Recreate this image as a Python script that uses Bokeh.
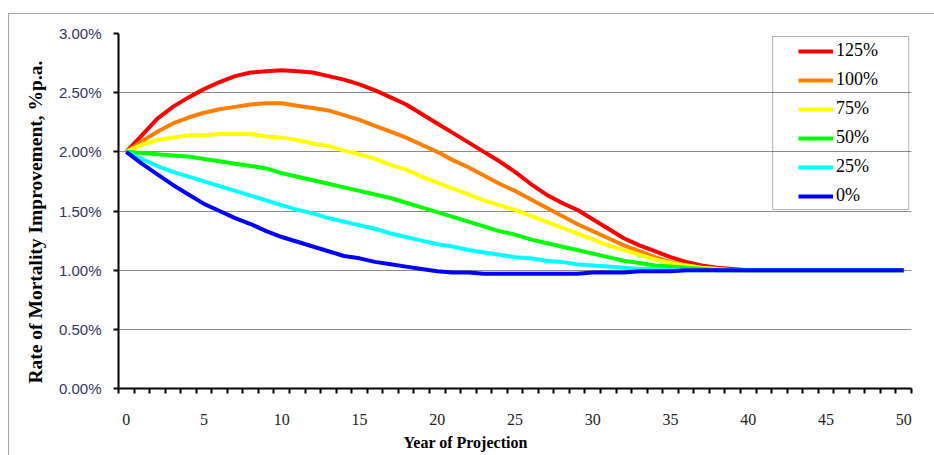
from bokeh.plotting import figure
from bokeh.models import (FixedTicker, PrintfTickFormatter, Legend, LegendItem,
                          BoxAnnotation, Title, Range1d)
from bokeh.embed import file_html
from bokeh.resources import INLINE

years = list(range(51))

s125 = [2.00, 2.14, 2.28, 2.38, 2.46, 2.53, 2.59, 2.64, 2.67, 2.68,
        2.69, 2.68, 2.67, 2.64, 2.61, 2.57, 2.52, 2.46, 2.40, 2.32,
        2.24, 2.16, 2.08, 2.00, 1.92, 1.83, 1.73, 1.64, 1.57, 1.51,
        1.43, 1.35, 1.27, 1.21, 1.16, 1.11, 1.07, 1.04, 1.02, 1.01,
        1.00, 1.00, 1.00, 1.00, 1.00, 1.00, 1.00, 1.00, 1.00, 1.00, 1.00]
s100 = [2.00, 2.09, 2.17, 2.24, 2.29, 2.33, 2.36, 2.38, 2.40, 2.41,
        2.41, 2.39, 2.37, 2.35, 2.31, 2.27, 2.22, 2.17, 2.12, 2.06,
        2.00, 1.93, 1.87, 1.80, 1.73, 1.67, 1.60, 1.53, 1.46, 1.39,
        1.33, 1.27, 1.21, 1.16, 1.11, 1.07, 1.04, 1.02, 1.01, 1.00,
        1.00, 1.00, 1.00, 1.00, 1.00, 1.00, 1.00, 1.00, 1.00, 1.00, 1.00]
s75 = [2.00, 2.06, 2.10, 2.12, 2.14, 2.14, 2.15, 2.15, 2.15, 2.13,
       2.12, 2.10, 2.07, 2.05, 2.01, 1.98, 1.94, 1.89, 1.85, 1.79,
       1.74, 1.69, 1.64, 1.59, 1.55, 1.51, 1.46, 1.41, 1.36, 1.31,
       1.26, 1.21, 1.17, 1.13, 1.09, 1.06, 1.04, 1.02, 1.01, 1.00,
       1.00, 1.00, 1.00, 1.00, 1.00, 1.00, 1.00, 1.00, 1.00, 1.00, 1.00]
s50 = [2.00, 1.99, 1.98, 1.97, 1.96, 1.94, 1.92, 1.90, 1.88, 1.86,
       1.82, 1.79, 1.76, 1.73, 1.70, 1.67, 1.64, 1.61, 1.57, 1.53,
       1.49, 1.45, 1.41, 1.37, 1.33, 1.30, 1.26, 1.23, 1.20, 1.17,
       1.14, 1.11, 1.08, 1.06, 1.04, 1.03, 1.02, 1.01, 1.00, 1.00,
       1.00, 1.00, 1.00, 1.00, 1.00, 1.00, 1.00, 1.00, 1.00, 1.00, 1.00]
s25 = [2.00, 1.94, 1.88, 1.83, 1.79, 1.75, 1.71, 1.67, 1.63, 1.59,
       1.55, 1.51, 1.48, 1.44, 1.41, 1.38, 1.35, 1.31, 1.28, 1.25,
       1.22, 1.20, 1.17, 1.15, 1.13, 1.11, 1.10, 1.08, 1.07, 1.05,
       1.04, 1.03, 1.02, 1.01, 1.01, 1.00, 1.00, 1.00, 1.00, 1.00,
       1.00, 1.00, 1.00, 1.00, 1.00, 1.00, 1.00, 1.00, 1.00, 1.00, 1.00]
s0 = [2.00, 1.90, 1.81, 1.72, 1.64, 1.56, 1.50, 1.44, 1.39, 1.33,
      1.28, 1.24, 1.20, 1.16, 1.12, 1.10, 1.07, 1.05, 1.03, 1.01,
      0.99, 0.98, 0.98, 0.97, 0.97, 0.97, 0.97, 0.97, 0.97, 0.97,
      0.98, 0.98, 0.98, 0.99, 0.99, 0.99, 1.00, 1.00, 1.00, 1.00,
      1.00, 1.00, 1.00, 1.00, 1.00, 1.00, 1.00, 1.00, 1.00, 1.00, 1.00]

series_labels = ["125%", "100%", "75%", "50%", "25%", "0%"]
series_values = [s125, s100, s75, s50, s25, s0]
series_colors = ["#FF0000", "#FF8000", "#FFFF00", "#00FF00", "#00FFFF", "#0000FF"]

y_ticks = [0.0, 0.5, 1.0, 1.5, 2.0, 2.5, 3.0]
x_label_ticks = [0, 5, 10, 15, 20, 25, 30, 35, 40, 45, 50]

frame_lines = ("linear-gradient(#a6a6a6, #a6a6a6) 8px 13px / 1px 100% no-repeat, "
               "linear-gradient(#a6a6a6, #a6a6a6) 8px 13px / 100% 1px no-repeat, white")

p = figure(width=934, height=455, output_backend="svg", toolbar_location=None,
           x_range=Range1d(-0.5, 50.5), y_range=Range1d(0, 3.0),
           min_border_left=118, min_border_right=23, min_border_top=33,
           min_border_bottom=67, styles={"background": frame_lines})
p.outline_line_color = None
p.background_fill_color = "white"
p.border_fill_alpha = 0

renderers = []
for vals, col in zip(series_values, series_colors):
    r = p.line(years, vals, line_color=col, line_width=4, line_join="round")
    renderers.append(r)

# grid
p.xgrid.visible = False
p.ygrid.grid_line_color = "#8c8c8c"
p.ygrid.grid_line_width = 1

# x axis
xa = p.xaxis[0]
xa.ticker = FixedTicker(ticks=x_label_ticks,
                        minor_ticks=[k - 0.5 for k in range(52)])
xa.major_tick_out = 0
xa.major_tick_in = 0
xa.minor_tick_out = 5
xa.minor_tick_in = 0
xa.minor_tick_line_color = "black"
xa.minor_tick_line_width = 2
xa.axis_line_color = "black"
xa.axis_line_width = 2
xa.major_label_standoff = 20
xa.major_label_text_font = "Liberation Sans Narrow"
xa.major_label_text_font_size = "16px"
xa.major_label_text_color = "#222222"

# y axis
ya = p.yaxis[0]
ya.ticker = FixedTicker(ticks=y_ticks)
ya.formatter = PrintfTickFormatter(format="%.2f%%")
ya.major_tick_out = 5
ya.major_tick_in = 0
ya.minor_tick_out = 0
ya.minor_tick_in = 0
ya.major_tick_line_color = "black"
ya.major_tick_line_width = 2
ya.axis_line_color = "black"
ya.axis_line_width = 2
ya.major_label_standoff = 12
ya.major_label_text_font = "Liberation Sans"
ya.major_label_text_font_size = "15px"
ya.major_label_text_color = "#333366"

# axis titles
xt = Title(text="Year of Projection", align="left", offset=285, standoff=8,
           vertical_align="bottom",
           text_font="Liberation Serif", text_font_style="bold",
           text_font_size="16px", text_color="black")
p.add_layout(xt, "below")
yt = Title(text="Rate of Mortality Improvement, %p.a.", align="left", offset=5,
           standoff=20, text_font="Liberation Serif", text_font_style="bold",
           text_font_size="19.5px", text_color="black")
p.add_layout(yt, "left")

# legend
items = [LegendItem(label=lab, renderers=[r]) for lab, r in zip(series_labels, renderers)]
legend = Legend(items=items, location=(680, 182), padding=0, margin=0, spacing=8,
                glyph_width=35, glyph_height=20, label_height=20, label_standoff=3,
                label_text_font="Liberation Serif", label_text_font_size="18px",
                label_text_color="black", border_line_alpha=0,
                background_fill_alpha=0)
p.add_layout(legend)

legend_box = BoxAnnotation(left=41.57, right=50.32, top=2.975, bottom=1.513,
                           fill_alpha=0, line_color="black", line_width=1)
p.add_layout(legend_box)

open("out.html", "w").write(file_html(p, INLINE))
